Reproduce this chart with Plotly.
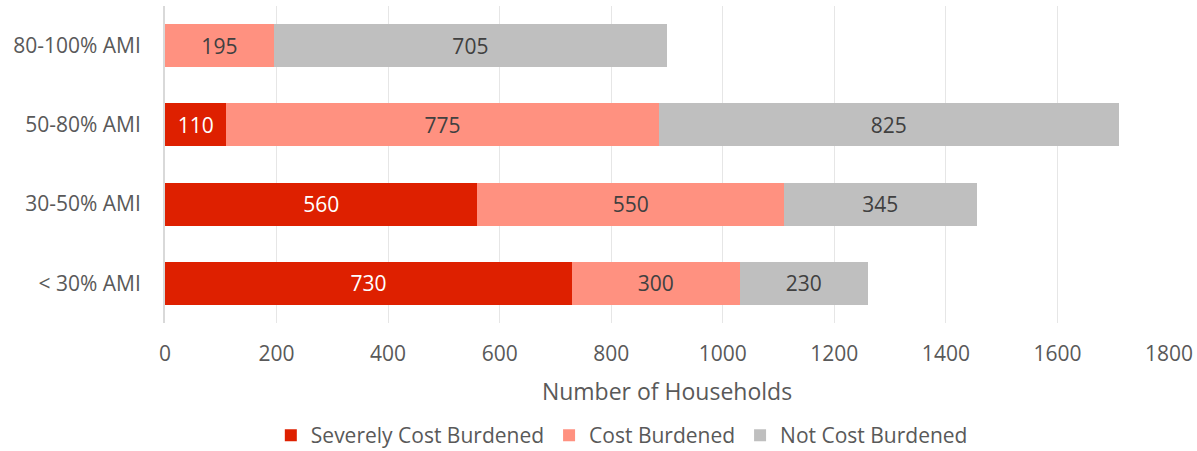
import plotly.graph_objects as go

# Data
categories = ['< 30% AMI', '30-50% AMI', '50-80% AMI', '80-100% AMI']
severely = [730, 560, 110, None]
cost_burdened = [300, 550, 775, 195]
not_burdened = [230, 345, 825, 705]

series_names = ['Severely Cost Burdened', 'Cost Burdened', 'Not Cost Burdened']
x_ticks = [0, 200, 400, 600, 800, 1000, 1200, 1400, 1600, 1800]

FONT = 'Open Sans'
fig = go.Figure()

fig.add_trace(go.Bar(y=categories, x=severely, name=series_names[0], orientation='h',
                     marker=dict(color='#DE2000', line=dict(width=0)),
                     text=severely, textposition='inside', insidetextanchor='middle',
                     textfont=dict(color='white', size=21, family=FONT)))
fig.add_trace(go.Bar(y=categories, x=cost_burdened, name=series_names[1], orientation='h',
                     marker=dict(color='#FF9180', line=dict(width=0)),
                     text=cost_burdened, textposition='inside', insidetextanchor='middle',
                     textfont=dict(color='#404040', size=21, family=FONT)))
fig.add_trace(go.Bar(y=categories, x=not_burdened, name=series_names[2], orientation='h',
                     marker=dict(color='#BFBFBF', line=dict(width=0)),
                     text=not_burdened, textposition='inside', insidetextanchor='middle',
                     textfont=dict(color='#404040', size=21, family=FONT)))

fig.update_layout(
    barmode='stack',
    bargap=0.46,
    width=1197, height=451,
    margin=dict(l=165, r=28, t=6, b=128, autoexpand=False),
    plot_bgcolor='white', paper_bgcolor='white',
    font=dict(family=FONT, size=21, color='#595959'),
    uniformtext=dict(mode='show', minsize=10),
    xaxis=dict(range=[0, 1800], tickvals=x_ticks, showgrid=True, gridcolor='#E6E6E6',
               gridwidth=1, zeroline=False, ticks='', ticklen=0, ticklabelstandoff=16,
               ticklabeloverflow='allow',
               tickfont=dict(size=21, color='#595959'),
               title=dict(text='Number of Households', font=dict(size=23, color='#595959'), standoff=17)),
    yaxis=dict(showline=True, linecolor='#D9D9D9', linewidth=2, showgrid=False,
               ticks='', ticklabelstandoff=18, tickfont=dict(size=21, color='#595959')),
    legend=dict(orientation='h', x=0.455, xanchor='center', y=-0.355, yanchor='middle',
                font=dict(size=21, color='#595959'), itemwidth=30, traceorder='normal'),
    showlegend=True,
)

# drop the default 8px page margin so the figure fills the window exactly
fig.write_html("out.html", config={'displayModeBar': False},
               post_script="document.body.style.margin='0';document.body.style.overflow='hidden';")
